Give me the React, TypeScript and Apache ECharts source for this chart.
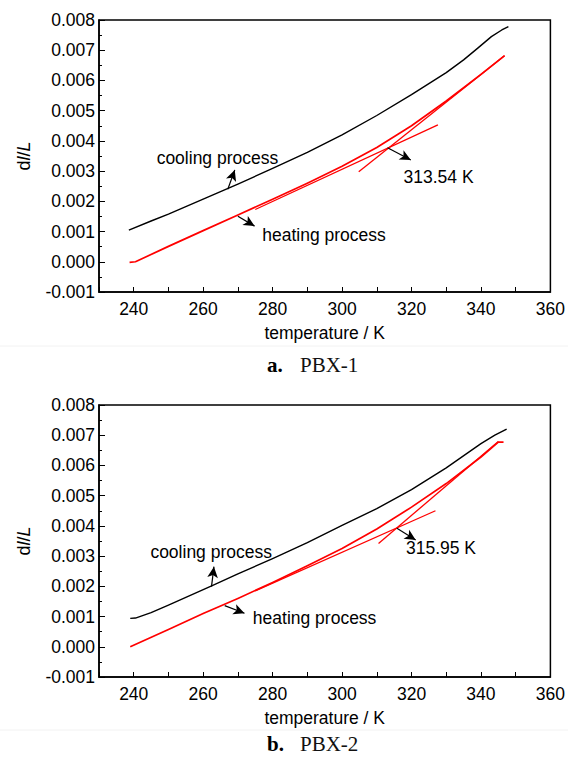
import React, { useEffect, useRef } from "react";
import * as echarts from "echarts";

// ---- Panel a (PBX-1) ----
const coolTempA = [238.6, 245, 250, 260, 270, 280, 290, 300, 310, 320, 330, 335, 339, 343, 346, 347.9];
const coolValA = [0.00105, 0.00135, 0.00158, 0.00207, 0.00257, 0.00309, 0.00362, 0.0042, 0.00484, 0.00553, 0.00626, 0.00668, 0.00706, 0.00745, 0.00767, 0.00778];
const heatTempA = [238.8, 240.5, 250, 260, 270, 280, 290, 300, 310, 320, 330, 340, 346.8];
const heatValA = [-0.00002, 0.0, 0.00051, 0.00103, 0.00155, 0.00207, 0.0026, 0.00316, 0.00378, 0.0045, 0.00532, 0.0062, 0.00682];
const lowTanA = [[275, 0.00173], [327.6, 0.00453]];
const highTanA = [[304.8, 0.00298], [346.8, 0.00682]];
const transitionA = "313.54 K";

// ---- Panel b (PBX-2) ----
const coolTempB = [239.0, 240.5, 245, 250, 262.6, 270, 280, 290, 300, 310, 320, 330, 340, 344, 347.4];
const coolValB = [0.00094, 0.00095, 0.00113, 0.00138, 0.00202, 0.00241, 0.00292, 0.00345, 0.00402, 0.00457, 0.0052, 0.00592, 0.00672, 0.007, 0.0072];
const heatTempB = [239, 250, 260, 270, 280, 290, 300, 310, 320, 330, 340, 345, 346.5];
const heatValB = [0.0, 0.00057, 0.0011, 0.0016, 0.00213, 0.00268, 0.00325, 0.0039, 0.00462, 0.0054, 0.00628, 0.00677, 0.00677];
const lowTanB = [[275, 0.00185], [326.9, 0.0045]];
const highTanB = [[310.5, 0.00342], [345, 0.00679]];
const transitionB = "315.95 K";

// annotation arrows [from, to] in data coordinates
const arrowsA = [
  [[267.1, 0.0024], [269.1, 0.00304]],
  [[270, 0.00151], [274.8, 0.00118]],
  [[313.1, 0.00377], [319.8, 0.00337]],
];
const arrowsB = [
  [[262.4, 0.00199], [263.1, 0.00265]],
  [[266.2, 0.00136], [271.9, 0.00111]],
  [[315.8, 0.00392], [321.2, 0.00353]],
];
// annotation text anchors (left-middle) in data coordinates
const labelsA = [
  { text: "cooling process", at: [246.6, 0.00345] },
  { text: "heating process", at: [277.0, 0.00087] },
  { text: transitionA, at: [317.7, 0.0028] },
];
const labelsB = [
  { text: "cooling process", at: [244.8, 0.00313] },
  { text: "heating process", at: [274.3, 0.00096] },
  { text: transitionB, at: [318.4, 0.00326] },
];

const zip = (t: number[], v: number[]) => t.map((x, i) => [x, v[i]]);

const FONT = "Liberation Sans";

export default function App() {
  const ref = useRef<HTMLDivElement>(null);
  useEffect(() => {
    document.body.style.margin = "0";
    const chart = echarts.init(ref.current!, null, { renderer: "svg" });

    const xAxis = (gi: number) => ({
      type: "value",
      gridIndex: gi,
      min: 230,
      max: 360,
      interval: 10,
      axisLine: { show: true, onZero: false, lineStyle: { color: "#000", width: 1.5 } },
      axisTick: { show: true, inside: true, length: 5, lineStyle: { color: "#000", width: 1 } },
      axisLabel: {
        color: "#000",
        fontSize: 17.5,
        fontFamily: FONT,
        margin: 8,
        formatter: (v: number) => (Math.round(v) % 20 === 0 ? String(Math.round(v)) : ""),
      },
      splitLine: { show: false },
      name: "temperature / K",
      nameLocation: "middle",
      nameGap: 32,
      nameTextStyle: { color: "#000", fontSize: 17.5, fontFamily: FONT },
    });
    const yAxis = (gi: number) => ({
      type: "value",
      gridIndex: gi,
      min: -0.001,
      max: 0.008,
      interval: 0.001,
      axisLine: { show: true, onZero: false, lineStyle: { color: "#000", width: 1.5 } },
      axisTick: { show: true, inside: true, length: 6, lineStyle: { color: "#000", width: 1 } },
      minorTick: { show: true, splitNumber: 2, length: 3, lineStyle: { color: "#000", width: 1 } },
      axisLabel: {
        color: "#000",
        fontSize: 17.5,
        fontFamily: FONT,
        margin: 4,
        formatter: (v: number) => v.toFixed(3),
      },
      splitLine: { show: false },
      name: "d{i|l}/{i|L}",
      nameLocation: "middle",
      nameGap: 66,
      nameRotate: 90,
      nameTextStyle: {
        color: "#000",
        fontSize: 18,
        fontFamily: FONT,
        rich: { i: { fontStyle: "italic", fontSize: 18, fontFamily: FONT, color: "#000" } },
      },
    });

    const lineSeries = (gi: number, data: number[][], color: string, width: number, extra: any = {}) => ({
      type: "line",
      xAxisIndex: gi,
      yAxisIndex: gi,
      data,
      showSymbol: false,
      symbol: "none",
      smooth: false,
      lineStyle: { color, width, join: "round" },
      silent: true,
      ...extra,
    });
    const arrowMark = (arr: number[][][]) => ({
      silent: true,
      symbol: ["none", "arrow"],
      symbolSize: [8, 11],
      lineStyle: { color: "#000", width: 1.2, type: "solid" },
      label: { show: false },
      emphasis: { disabled: true },
      data: arr.map(([a, b]) => [{ coord: a }, { coord: b }]),
    });

    chart.setOption({
      animation: false,
      backgroundColor: "#fff",
      grid: [
        { left: 99, top: 20, width: 454, height: 272, show: true, borderColor: "#000", borderWidth: 1.5 },
        { left: 99, top: 405, width: 454, height: 272, show: true, borderColor: "#000", borderWidth: 1.5 },
      ],
      xAxis: [xAxis(0), xAxis(1)],
      yAxis: [yAxis(0), yAxis(1)],
      series: [
        lineSeries(0, zip(coolTempA, coolValA), "#000", 1.4, { markLine: arrowMark(arrowsA) }),
        lineSeries(0, zip(heatTempA, heatValA), "#ff0000", 1.7),
        lineSeries(0, lowTanA, "#ff0000", 1.3),
        lineSeries(0, highTanA, "#ff0000", 1.3),
        lineSeries(1, zip(coolTempB, coolValB), "#000", 1.4, { markLine: arrowMark(arrowsB) }),
        lineSeries(1, zip(heatTempB, heatValB), "#ff0000", 1.7),
        lineSeries(1, lowTanB, "#ff0000", 1.3),
        lineSeries(1, highTanB, "#ff0000", 1.3),
      ],
    });

    const texts: any[] = [];
    const addLabels = (labels: { text: string; at: number[] }[], gi: number) => {
      labels.forEach((l) => {
        const p = chart.convertToPixel({ xAxisIndex: gi, yAxisIndex: gi } as any, l.at) as number[];
        texts.push({
          type: "text",
          x: p[0],
          y: p[1],
          silent: true,
          style: { text: l.text, fill: "#000", fontSize: 17.5, fontFamily: FONT, textAlign: "left", textVerticalAlign: "middle" },
        });
      });
    };
    addLabels(labelsA, 0);
    addLabels(labelsB, 1);

    const caption = (letter: string, name: string, y: number) => [
      {
        type: "text",
        x: 267,
        y,
        silent: true,
        style: { text: letter, fill: "#000", fontSize: 21, fontWeight: "bold", fontFamily: "Liberation Serif", textVerticalAlign: "middle" },
      },
      {
        type: "text",
        x: 300,
        y,
        silent: true,
        style: { text: name, fill: "#111", fontSize: 21, fontFamily: "Liberation Serif", textVerticalAlign: "middle" },
      },
    ];

    chart.setOption({
      graphic: [
        { type: "line", silent: true, shape: { x1: 0, y1: 346, x2: 568, y2: 346 }, style: { stroke: "#f2f2f2", lineWidth: 1 } },
        { type: "line", silent: true, shape: { x1: 0, y1: 730, x2: 568, y2: 730 }, style: { stroke: "#f2f2f2", lineWidth: 1 } },
        ...texts,
        ...caption("a.", "PBX-1", 365),
        ...caption("b.", "PBX-2", 744),
      ],
    });

    return () => chart.dispose();
  }, []);
  return <div ref={ref} style={{ width: 568, height: 757 }} />;
}
